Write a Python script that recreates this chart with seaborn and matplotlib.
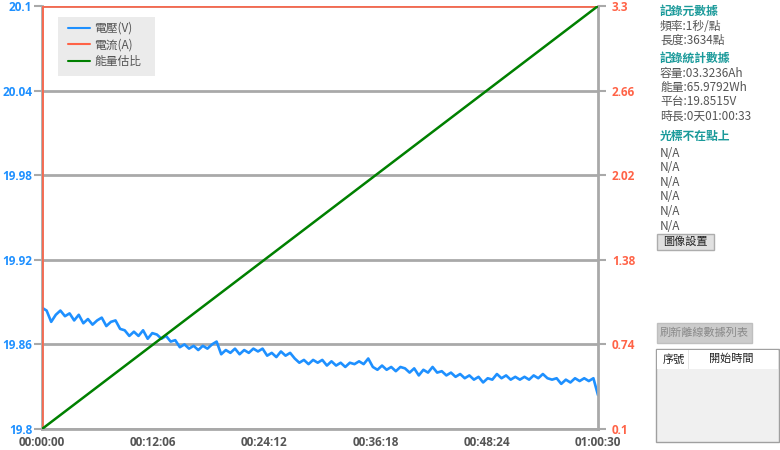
import numpy as np
import pandas as pd
import matplotlib
matplotlib.use("Agg")
import matplotlib.pyplot as plt
import seaborn as sns
from matplotlib.patches import Rectangle

# voltage samples, one every 30 s
voltage = [
    19.886, 19.884, 19.876, 19.881, 19.884, 19.880, 19.882, 19.877, 19.881, 19.875,
    19.878, 19.874, 19.877, 19.879, 19.873, 19.876, 19.877, 19.871, 19.870, 19.866,
    19.869, 19.866, 19.870, 19.864, 19.868, 19.867, 19.864, 19.866, 19.862, 19.863,
    19.858, 19.860, 19.857, 19.859, 19.856, 19.859, 19.857, 19.860, 19.862, 19.853,
    19.856, 19.854, 19.857, 19.853, 19.856, 19.854, 19.857, 19.855, 19.857, 19.852,
    19.854, 19.851, 19.855, 19.852, 19.854, 19.850, 19.847, 19.849, 19.846, 19.849,
    19.847, 19.849, 19.845, 19.848, 19.845, 19.847, 19.844, 19.847, 19.846, 19.848,
    19.846, 19.850, 19.844, 19.842, 19.845, 19.842, 19.844, 19.841, 19.844, 19.843,
    19.840, 19.843, 19.838, 19.842, 19.840, 19.844, 19.840, 19.841, 19.838, 19.840,
    19.837, 19.839, 19.836, 19.838, 19.835, 19.837, 19.833, 19.836, 19.835, 19.839,
    19.836, 19.838, 19.835, 19.837, 19.835, 19.837, 19.835, 19.838, 19.836, 19.839,
    19.836, 19.835, 19.836, 19.832, 19.835, 19.833, 19.836, 19.834, 19.836, 19.834,
    19.836, 19.824,
]
voltage_time = np.linspace(0, 3630, len(voltage))

current_time = [0, 1, 3630]
current = [0.0, 3.3, 3.3]

energy_time = [0, 3630]
energy_pct = [0, 100]

x_ticks = [0, 726, 1452, 2178, 2904, 3630]
left_ticks = [19.8, 19.86, 19.92, 19.98, 20.04, 20.1]
left_labels = ["19.8", "19.86", "19.92", "19.98", "20.04", "20.1"]
right_ticks = [0.1, 0.74, 1.38, 2.02, 2.66, 3.3]
right_labels = ["0.1", "0.74", "1.38", "2.02", "2.66", "3.3"]

legend_labels = ["電壓(V)", "電流(A)", "能量估比"]
meta_lines = ["頻率:1秒/點", "長度:3634點"]
stat_lines = ["容量:03.3236Ah", "能量:65.9792Wh", "平台:19.8515V", "時長:0天01:00:33"]
cursor_lines = ["N/A"] * 6

BLUE = "#1e90ff"
RED = "#ff6347"
GREEN = "#008000"
GRID = "#a9a9a9"
TEAL = "#1a9a9a"
TXT = "#555555"
NUM_FONT = ["Open Sans", "DejaVu Sans"]

sns.set_style("white")
plt.rcParams["font.family"] = ["Noto Sans CJK TC", "DejaVu Sans"]


def hms(v, pos=None):
    v = int(round(v))
    return f"{v // 3600:02d}:{v % 3600 // 60:02d}:{v % 60:02d}"


def px(x, y):
    return x / 780, 1 - y / 450


fig = plt.figure(figsize=(7.8, 4.5), dpi=100)
ax = fig.add_axes([42 / 780, 21 / 450, 556 / 780, 423 / 450])
ax2 = ax.twinx()
ax3 = ax.twinx()

df_v = pd.DataFrame({"t": voltage_time, "v": voltage})
df_c = pd.DataFrame({"t": current_time, "a": current})
df_e = pd.DataFrame({"t": energy_time, "e": energy_pct})

sns.lineplot(data=df_v, x="t", y="v", ax=ax, color=BLUE, lw=1.9, zorder=3)
sns.lineplot(data=df_c, x="t", y="a", ax=ax2, color=RED, lw=2.6, alpha=0.9)
sns.lineplot(data=df_e, x="t", y="e", ax=ax3, color=GREEN, lw=1.8)

ax.set_xlim(0, 3630)
ax.set_ylim(19.8, 20.1)
ax2.set_ylim(0.1, 3.3)
ax3.set_ylim(0, 100)

ax.set_xticks(x_ticks)
ax.xaxis.set_major_formatter(plt.FuncFormatter(hms))
ax.set_yticks(left_ticks)
ax.set_yticklabels(left_labels)
ax2.set_yticks(right_ticks)
ax2.set_yticklabels(right_labels)
ax3.set_yticks([])

for a in (ax, ax2, ax3):
    a.set_xlabel("")
    a.set_ylabel("")
    for s in a.spines.values():
        s.set_visible(False)

ax.spines["left"].set_visible(True)
ax.spines["bottom"].set_visible(True)
ax2.spines["right"].set_visible(True)
for s in (ax.spines["left"], ax.spines["bottom"], ax2.spines["right"]):
    s.set_color(GRID)
    s.set_linewidth(2)

ax.grid(axis="y", color=GRID, lw=2)
ax.set_axisbelow(True)
ax.tick_params(axis="y", colors=GRID, labelcolor=BLUE, length=6, width=1.5,
               labelsize=8.5, pad=1)
ax.tick_params(axis="x", colors=GRID, labelcolor=TXT, length=4, width=1.5,
               labelsize=8.5, pad=1)
ax2.tick_params(axis="y", colors=GRID, labelcolor=RED, length=6, width=1.5,
                labelsize=8.5, pad=4)
for lab in ax.get_xticklabels() + ax.get_yticklabels() + ax2.get_yticklabels():
    lab.set_fontweight("bold")
    lab.set_family(NUM_FONT)

# legend: grey box drawn separately, frameless legend on top
fig.patches.append(Rectangle(px(58, 76), 97 / 780, 59 / 450, transform=fig.transFigure,
                             facecolor="#ebebeb", edgecolor="none", zorder=5))
leg_handles = [plt.Line2D([], [], color=c, lw=1.5) for c in (BLUE, RED, GREEN)]
leg = fig.legend(leg_handles, legend_labels, loc="upper left",
                 bbox_to_anchor=px(68, 22), frameon=False, fontsize=8.5,
                 handlelength=1.85, handletextpad=0.35, labelspacing=0.3,
                 borderpad=0, borderaxespad=0)
leg.set_zorder(6)
for t in leg.get_texts():
    t.set_color(TXT)

# side panel
fig.text(*px(660, 11), "記錄元數據", color=TEAL, fontsize=8.5, va="center", fontweight="bold")
for i, s in enumerate(meta_lines):
    fig.text(*px(660, 26 + 14.5 * i), s, color=TXT, fontsize=8.5, va="center")
fig.text(*px(660, 58), "記錄統計數據", color=TEAL, fontsize=8.5, va="center", fontweight="bold")
for i, s in enumerate(stat_lines):
    fig.text(*px(660, 73 + 14.5 * i), s, color=TXT, fontsize=8.5, va="center")
fig.text(*px(660, 136), "光標不在點上", color=TEAL, fontsize=8.5, va="center", fontweight="bold")
for i, s in enumerate(cursor_lines):
    fig.text(*px(660, 153 + 14.6 * i), s, color=TXT, fontsize=8.5, va="center")

fig.patches.append(Rectangle(px(657, 250), 57 / 780, 16 / 450, transform=fig.transFigure,
                             facecolor="#e1e1e1", edgecolor="#adadad", lw=1))
fig.text(*px(685.5, 242), "圖像設置", color="#222222", fontsize=8, va="center", ha="center")

fig.patches.append(Rectangle(px(657, 343), 95 / 780, 20 / 450, transform=fig.transFigure,
                             facecolor="#cccccc", edgecolor="#bfbfbf", lw=1))
fig.text(*px(704.5, 333), "刷新離線數據列表", color="#8a8a8a", fontsize=8, va="center", ha="center")

fig.patches.append(Rectangle(px(656, 442), 123 / 780, 93 / 450, transform=fig.transFigure,
                             facecolor="#f0f0f0", edgecolor="#a0a0a0", lw=1))
fig.patches.append(Rectangle(px(657, 369), 121 / 780, 19 / 450, transform=fig.transFigure,
                             facecolor="white", edgecolor="none"))
fig.patches.append(Rectangle(px(688, 369), 1 / 780, 19 / 450, transform=fig.transFigure,
                             facecolor="#e5e5e5", edgecolor="none"))
fig.text(*px(663, 359), "序號", color="#222222", fontsize=8, va="center")
fig.text(*px(731, 359), "開始時間", color="#222222", fontsize=8, va="center", ha="center")

fig.savefig("out.png", dpi=100)
